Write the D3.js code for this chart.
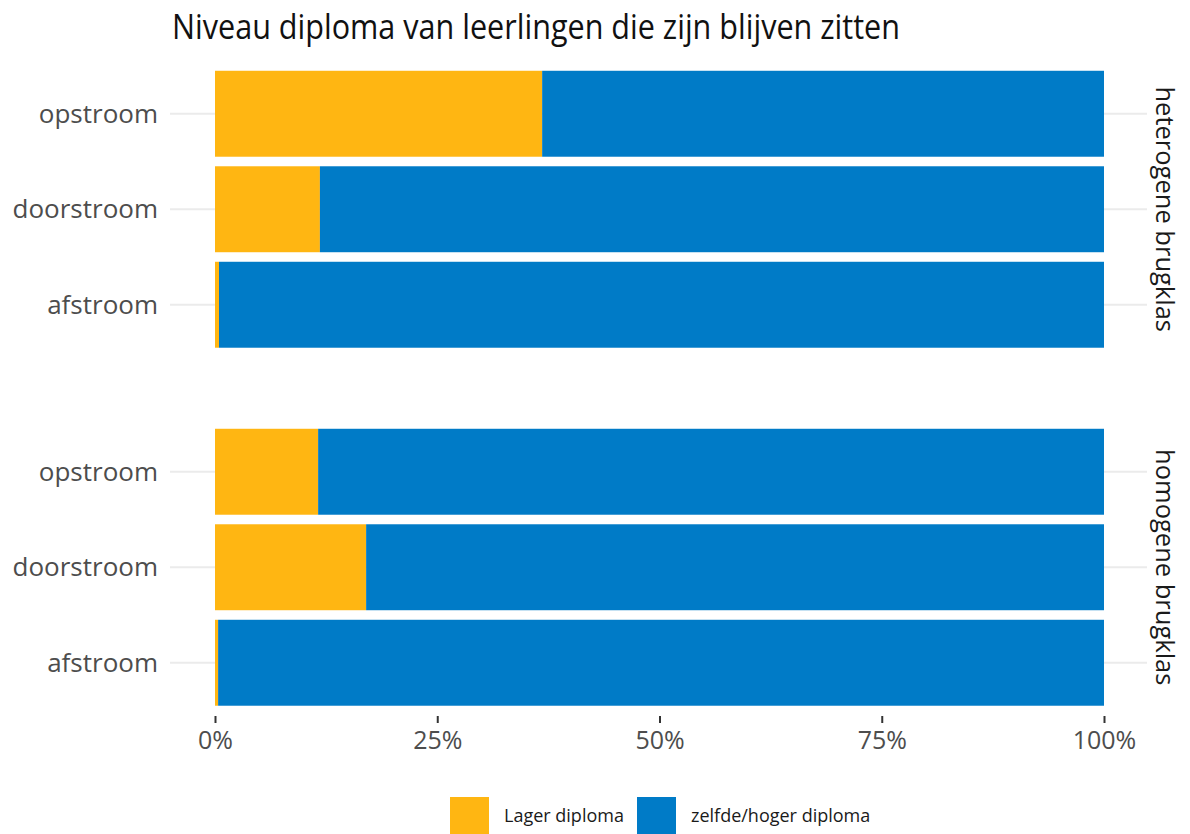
<!DOCTYPE html>
<html><head><meta charset="utf-8">
<script src="https://cdn.jsdelivr.net/npm/d3@7"></script>
<style>body{margin:0;background:#fff;} text{font-family:"Open Sans",sans-serif;}</style>
</head><body>
<svg id="c" width="1190" height="834"></svg>
<script>
const title = "Niveau diploma van leerlingen die zijn blijven zitten";
const facets = ["heterogene brugklas", "homogene brugklas"];
const categories = ["opstroom", "doorstroom", "afstroom"];
const seriesNames = ["Lager diploma", "zelfde/hoger diploma"];
const colors = ["#FFB612", "#007BC7"];
// share "Lager diploma" per facet, per category (order of categories)
const lagerHetero = [0.368, 0.118, 0.0045];
const lagerHomo = [0.116, 0.170, 0.0035];
const lagerByFacet = [lagerHetero, lagerHomo];
const xTicks = [0, 0.25, 0.5, 0.75, 1];
const xTickLabels = ["0%", "25%", "50%", "75%", "100%"];

const svg = d3.select("#c");
const x = d3.scaleLinear().domain([0, 1]).range([215, 1104]);
const panels = [[66, 352.5], [424, 710.5]];

svg.append("text").attr("x", 172).attr("y", 39).attr("font-size", 35)
  .attr("textLength", 728).attr("lengthAdjust", "spacingAndGlyphs")
  .attr("fill", "#111").text(title);

facets.forEach((f, i) => {
  const y = d3.scaleBand().domain(categories).range(panels[i]).paddingInner(0.1).paddingOuter(0.05);
  const g = svg.append("g");
  // gridlines
  g.selectAll("line.grid").data(categories).join("line")
    .attr("x1", 170).attr("x2", 1147)
    .attr("y1", d => y(d) + y.bandwidth() / 2).attr("y2", d => y(d) + y.bandwidth() / 2)
    .attr("stroke", "#ebebeb").attr("stroke-width", 2);
  const stacked = categories.map((c, j) => {
    const v = lagerByFacet[i][j];
    return [{c, s: 0, x0: 0, x1: v}, {c, s: 1, x0: v, x1: 1}];
  }).flat();
  g.selectAll("rect").data(stacked).join("rect")
    .attr("x", d => x(d.x0)).attr("width", d => x(d.x1) - x(d.x0))
    .attr("y", d => y(d.c)).attr("height", y.bandwidth())
    .attr("fill", d => colors[d.s]);
  // y labels
  g.selectAll("text.yl").data(categories).join("text")
    .attr("x", 158).attr("y", d => y(d) + y.bandwidth() / 2).attr("dy", "0.35em")
    .attr("text-anchor", "end").attr("font-size", 26).attr("fill", "#4d4d4d").text(d => d);
  // strip
  const cy = (panels[i][0] + panels[i][1]) / 2;
  g.append("text").attr("transform", `translate(1165,${cy}) rotate(90)`)
    .attr("text-anchor", "middle").attr("dy", "0.35em").attr("font-size", 25.5).attr("fill", "#1a1a1a").text(f);
});

// x axis
const ax = svg.append("g").attr("transform", "translate(0,716)")
  .call(d3.axisBottom(x).tickValues(xTicks).tickFormat((d, i) => xTickLabels[i]).tickSize(7).tickPadding(8));
ax.select(".domain").remove();
ax.selectAll(".tick line").attr("stroke", "#333").attr("stroke-width", 2);
ax.selectAll(".tick text").attr("font-size", 25).attr("fill", "#4d4d4d").attr("font-family", "Open Sans");

// legend
const lg = svg.append("g");
const lx = [450, 637];
seriesNames.forEach((s, i) => {
  lg.append("rect").attr("x", lx[i]).attr("y", 797).attr("width", 39).attr("height", 37).attr("fill", colors[i]);
  lg.append("text").attr("x", lx[i] + 54).attr("y", 816).attr("dy", "0.35em").attr("font-size", 18).attr("fill", "#1a1a1a").text(s);
});
</script>
</body></html>
